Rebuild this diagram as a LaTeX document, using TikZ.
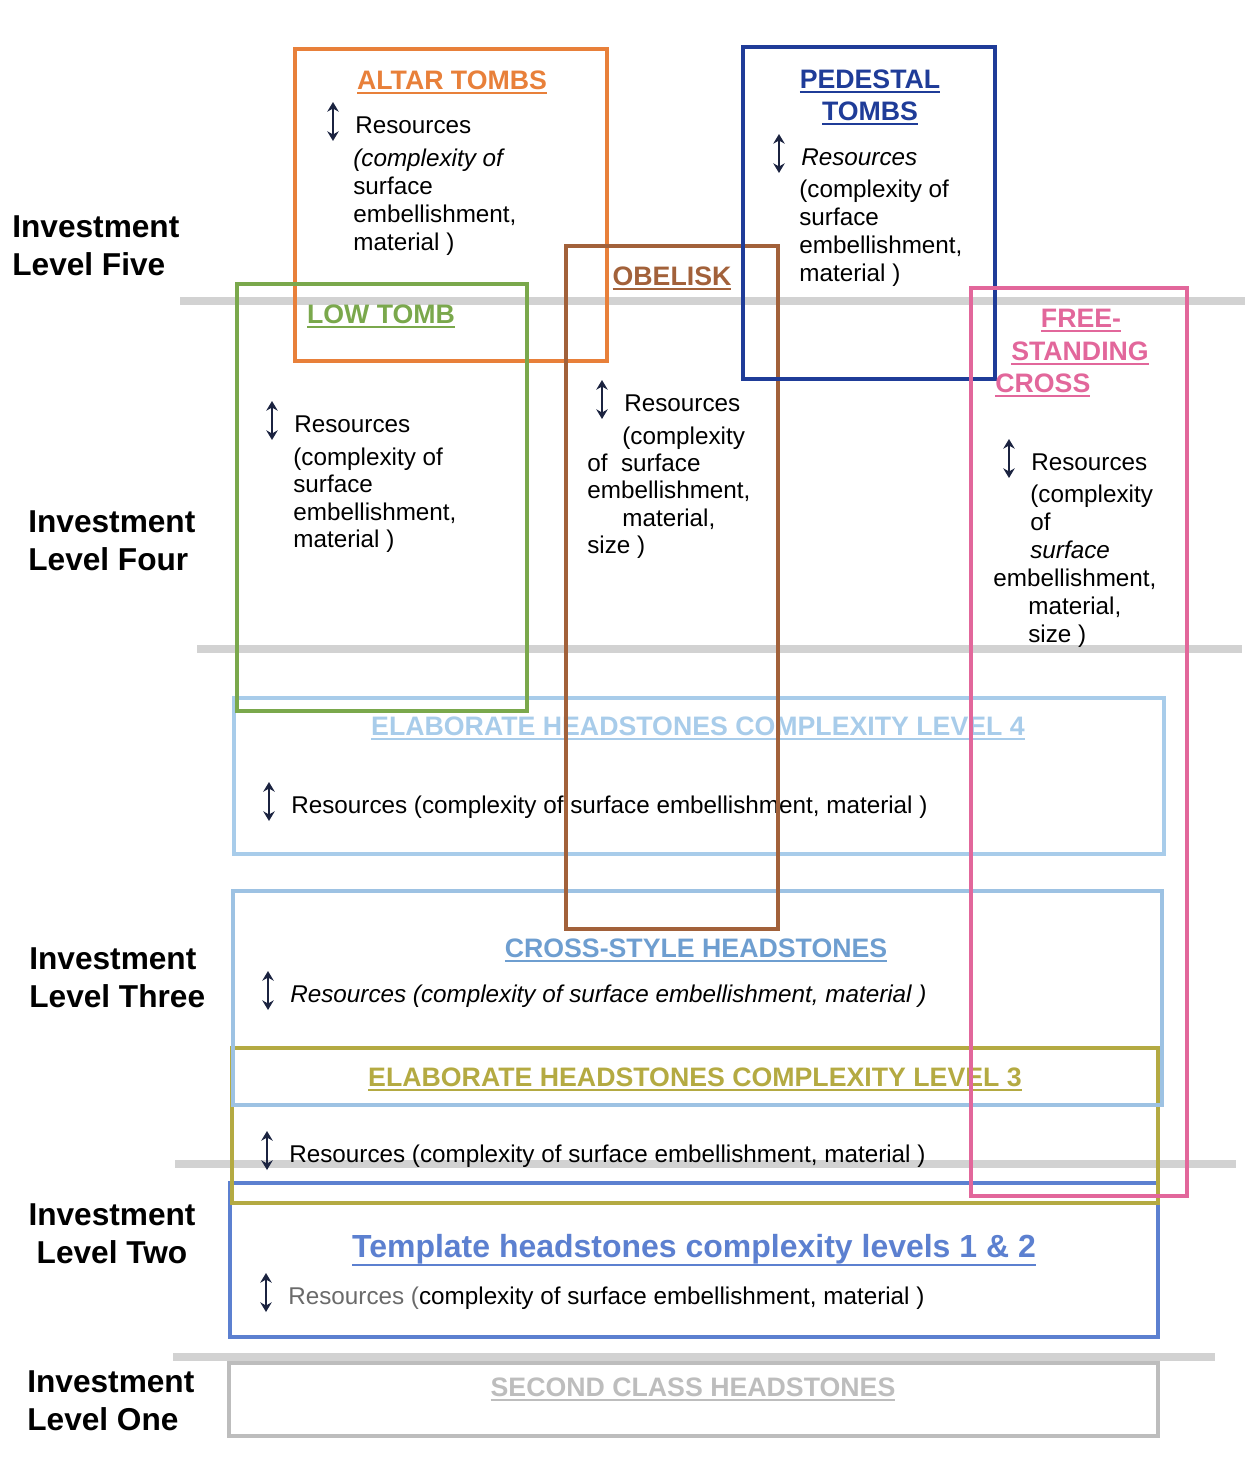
\documentclass[tikz,border=0pt]{standalone}
\usepackage{fontspec}
\setmainfont{Liberation Sans}
\usetikzlibrary{arrows.meta}
\definecolor{altarorange}{HTML}{E8803A}
\definecolor{pedblue}{HTML}{1F3C98}
\definecolor{lowgreen}{HTML}{7AA84C}
\definecolor{obelbrown}{HTML}{A2613A}
\definecolor{crosspink}{HTML}{E2679B}
\definecolor{elabfour}{HTML}{A8CCEA}
\definecolor{crossstyle}{HTML}{9DC2E3}
\definecolor{crossstyletext}{HTML}{6E9ED0}
\definecolor{elabthree}{HTML}{B4AA42}
\definecolor{templblue}{HTML}{5C80D0}
\definecolor{secondgrey}{HTML}{BDBDBD}
\definecolor{bandgrey}{HTML}{D2D2D2}
\definecolor{arrownavy}{HTML}{1B2340}
\definecolor{fadedtext}{HTML}{6A6A6A}
\newcommand{\resfont}{\fontsize{13.8}{16}\selectfont}
\newcommand{\headfont}{\fontsize{15.2}{18}\selectfont\bfseries}
\newcommand{\lvlfont}{\fontsize{18}{21}\selectfont\bfseries}
\newcommand{\hul}[2][2.6pt]{\setbox0=\hbox{#2}\rlap{\rule[-#1]{\wd0}{1.1pt}}\box0}

\begin{document}
\begin{tikzpicture}[x=0.2mm,y=-0.2mm,
  band/.style={line width=5pt, bandgrey},
  tombbox/.style={line width=2.3pt},
  body/.style={font=\resfont, inner sep=0pt, anchor=base west},
  head/.style={font=\headfont, inner sep=0pt, anchor=base},
  lvl/.style={font=\lvlfont, inner sep=0pt, anchor=base west},
  resarrow/.style={{Stealth[length=5.5pt,width=6.5pt]}-{Stealth[length=5.5pt,width=6.5pt]}, line width=1.5pt, arrownavy}]
\useasboundingbox (0,0) rectangle (1259,1475);

% level bands
\foreach \y/\xa/\xb in {301/180/1245, 649/197/1242, 1164/175/1236, 1357/173/1215}
  \draw[band] (\xa,\y) -- (\xb,\y);

% level labels
\foreach \n/\x/\y/\t in {five/12/237/Five, four/28/532/Four, three/29/969/Three, one/27/1392/One}{
  \node[lvl] (inv-\n) at (\x,\y) {Investment};
  \node[lvl] (lev-\n) at (\x,\y+38) {Level \t};
}
\node[lvl, anchor=base] (inv-two) at (112,1225) {Investment};
\node[lvl, anchor=base] (lev-two) at (112,1263) {Level Two};

% headstones
\draw[tombbox, secondgrey] (229,1363) rectangle (1158,1436);
\node[head, secondgrey] (second) at (693,1396) {\hul{SECOND CLASS HEADSTONES}};

\draw[tombbox, templblue] (230,1183) rectangle (1158,1337);
\node[head, templblue, font=\fontsize{18.2}{22}\selectfont\bfseries] (templ) at (694,1257)
  {\hul[5pt]{Template headstones complexity levels 1 \& 2}};
\node[body] (r-templ) at (288,1304) {\textcolor{fadedtext}{Resources (}complexity of surface embellishment, material )};

\draw[tombbox, elabthree] (232,1048) rectangle (1158,1203);
\node[head, elabthree] (elab3) at (695,1086) {\hul{ELABORATE HEADSTONES COMPLEXITY LEVEL 3}};
\node[body] (r-elab3) at (289,1162) {Resources (complexity of surface embellishment, material )};

\draw[tombbox, crossstyle] (233,891) rectangle (1162,1105);
\node[head, crossstyletext] (cstyle) at (696,957) {\hul{CROSS-STYLE HEADSTONES}};
\node[body] (r-cstyle) at (290,1002) {\itshape Resources (complexity of surface embellishment, material )};

\draw[tombbox, elabfour] (234,698) rectangle (1164,854);
\node[head, elabfour] (elab4) at (698,735) {\hul{ELABORATE HEADSTONES COMPLEXITY LEVEL 4}};
\node[body] (r-elab4) at (291,813) {Resources (complexity of surface embellishment, material )};

% altar tombs
\draw[tombbox, altarorange] (295,49) rectangle (607,361);
\node[head, altarorange] (altar) at (452,89) {\hul{ALTAR TOMBS}};
\node[body] (r-altar) at (355,133) {Resources};
\foreach \y/\t [count=\i] in {166/\textit{(complexity of}, 194/surface, 222/{embellishment,}, 250/material )}
  \node[body] (altar-\i) at (353,\y) {\t};

% low tomb
\draw[tombbox, lowgreen] (237,284) rectangle (527,711);
\node[head, lowgreen] (low) at (381,323) {\hul{LOW TOMB}};
\node[body] (r-low) at (294,432) {Resources};
\foreach \y/\t [count=\i] in {465/(complexity of, 492/surface, 520/{embellishment,}, 547/material )}
  \node[body] (low-\i) at (293,\y) {\t};

% obelisk
\draw[tombbox, obelbrown] (566,246) rectangle (778,929);
\node[head, obelbrown] (obel) at (672,285) {\hul{OBELISK}};
\node[body] (r-obel) at (624,411) {Resources};
\foreach \x/\y/\t [count=\i] in {622/444/(complexity, 587/471/of~~surface, 587/498/{embellishment,}, 622/526/{material,}, 587/553/size )}
  \node[body] (obel-\i) at (\x,\y) {\t};

% pedestal tombs
\draw[tombbox, pedblue] (743,47) rectangle (995,379);
\node[head, pedblue] (ped-a) at (870,88) {\hul{PEDESTAL}};
\node[head, pedblue] (ped-b) at (870,120) {\hul{TOMBS}};
\node[body] (r-ped) at (801,165) {\textit{Resources}};
\foreach \y/\t [count=\i] in {197/(complexity of, 225/surface, 253/{embellishment,}, 281/material )}
  \node[body] (ped-\i) at (799,\y) {\t};

% free-standing cross
\draw[tombbox, crosspink] (971,288) rectangle (1187,1196);
\node[head, crosspink] (cross-a) at (1081,327) {\hul{FREE-}};
\node[head, crosspink] (cross-b) at (1080,360) {\hul{STANDING}};
\node[head, crosspink, anchor=base west] (cross-c) at (995,392) {\hul{CROSS}};
\node[body] (r-cross) at (1031,470) {Resources};
\foreach \x/\y/\t [count=\i] in {1030/502/(complexity, 1030/530/of, 1030/558/\textit{surface}, 993/586/{embellishment,}, 1028/614/{material,}, 1028/642/size )}
  \node[body] (cross-\i) at (\x,\y) {\t};

% resource arrows
\foreach \r in {r-altar, r-ped, r-low, r-obel, r-cross, r-elab4, r-cstyle, r-elab3, r-templ}
  \draw[resarrow] ([shift={(-22,-31)}]\r.base west) -- ++(0,39);
\end{tikzpicture}
\end{document}
